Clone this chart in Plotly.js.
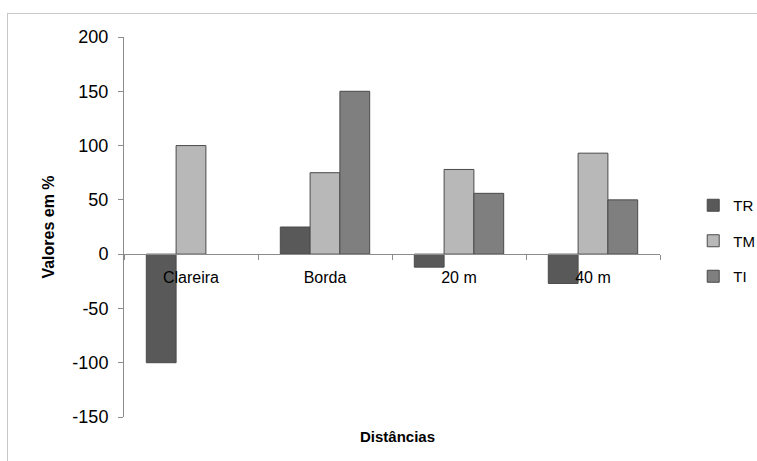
<!DOCTYPE html>
<html>
<head>
<meta charset="utf-8">
<script src="https://cdn.plot.ly/plotly-3.0.1.min.js"></script>
<style>
  html, body { margin: 0; padding: 0; background: #fff; }
  #wrap { position: relative; width: 757px; height: 461px; }
  #chart { position: absolute; left: 0; top: 0; width: 757px; height: 461px; }
  #frame { position: absolute; left: 7px; top: 13px; right: -2px; bottom: -2px;
           border-top: 1px solid #c8c8c8; border-left: 1px solid #c8c8c8; pointer-events: none; }
</style>
</head>
<body>
<div id="wrap">
  <div id="chart"></div>
  <div id="frame"></div>
</div>
<script>
// Distances along the transect
const categories = ["Clareira", "Borda", "20 m", "40 m"];

// Percent values per series (no TI bar at Clareira)
const TR = [-100, 25, -12, -27];
const TM = [100, 75, 78, 93];
const TI = [null, 150, 56, 50];

const seriesNames = ["TR", "TM", "TI"];
const seriesColors = ["#595959", "#b8b8b8", "#7f7f7f"];
const seriesValues = [TR, TM, TI];

const yTicks = [-150, -100, -50, 0, 50, 100, 150, 200];
const yTickText = ["-150", "-100", "-50", "0", "50", "100", "150", "200"];

const FONT = "Liberation Sans, Arial, sans-serif";

const traces = seriesNames.map((name, i) => ({
  type: "bar",
  name: name,
  x: categories,
  y: seriesValues[i],
  legendgroup: name,
  marker: { color: seriesColors[i], line: { color: "#4a4a4a", width: 1 } }
}));

const yMin = -150, yMax = 200;

const layout = {
  width: 757,
  height: 461,
  margin: { l: 124, r: 97, t: 37, b: 44, autoexpand: false },
  paper_bgcolor: "#ffffff",
  plot_bgcolor: "#ffffff",
  font: { family: FONT, color: "#000" },
  barmode: "group",
  bargap: 0.333,
  bargroupgap: 0,
  showlegend: true,
  legend: {
    x: 1.062, y: 0.60, xanchor: "left", yanchor: "top",
    font: { size: 15, family: FONT },
    traceorder: "grouped",
    tracegroupgap: 13,
    itemwidth: 30,
    bgcolor: "rgba(0,0,0,0)"
  },
  xaxis: {
    type: "category",
    anchor: "free",
    position: (0 - yMin) / (yMax - yMin),
    showline: true,
    linecolor: "#8c8c8c",
    linewidth: 1,
    ticks: "outside",
    tickson: "boundaries",
    ticklen: 5,
    tickcolor: "#8c8c8c",
    ticklabelstandoff: 9,
    showgrid: false,
    zeroline: false,
    tickfont: { size: 16, family: FONT, color: "#000" }
  },
  yaxis: {
    range: [yMin, yMax],
    tickvals: yTicks,
    ticktext: yTickText,
    showline: true,
    linecolor: "#8c8c8c",
    linewidth: 1,
    ticks: "outside",
    ticklen: 5,
    tickcolor: "#8c8c8c",
    ticklabelstandoff: 6,
    showgrid: false,
    zeroline: false,
    tickfont: { size: 18, family: FONT, color: "#000" },
    title: { text: "<b>Valores em %</b>", font: { size: 16, family: FONT }, standoff: 13 }
  },
  annotations: [{
    text: "<b>Distâncias</b>",
    xref: "paper", yref: "paper",
    x: 0.51, y: -0.025,
    xanchor: "center", yanchor: "top",
    showarrow: false,
    font: { size: 15, family: FONT, color: "#000" }
  }]
};

Plotly.newPlot("chart", traces, layout, { displayModeBar: false, staticPlot: true });
</script>
</body>
</html>
